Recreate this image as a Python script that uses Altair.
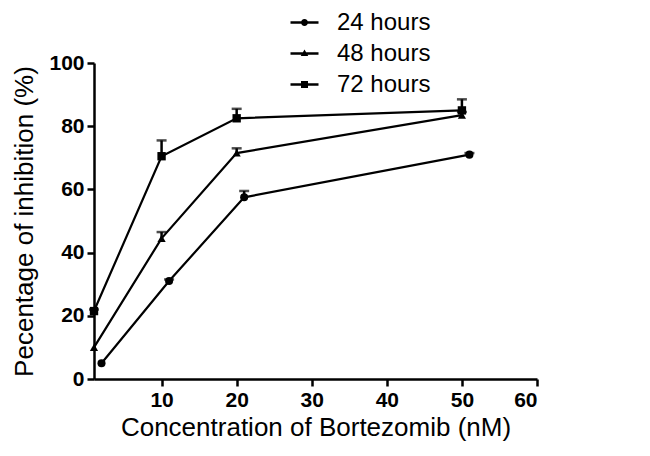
import altair as alt
import pandas as pd

series = ["24 hours"] * 4 + ["48 hours"] * 4 + ["72 hours"] * 4
conc = [2, 11, 21, 51, 1, 10, 20, 50, 1, 10, 20, 50]
inhib = [5, 31, 57.5, 71, 10, 44.5, 71.5, 83.5, 21.5, 70.5, 82.5, 85]
err = [0, 0.5, 2, 0.5, 0, 2, 1.5, 1, 0.5, 5, 3, 3.5]

labels = ["24 hours", "48 hours", "72 hours"]
x_ticks = [10, 20, 30, 40, 50, 60]
y_ticks = [0, 20, 40, 60, 80, 100]

df = pd.DataFrame({"series": series, "conc": conc, "inhib": inhib, "err": err})
df["hi"] = df["inhib"] + df["err"]

FONT = "Liberation Sans"

x = alt.X("conc:Q", scale=alt.Scale(domain=[1, 60], nice=False, zero=False),
          axis=alt.Axis(values=x_ticks, title="Concentration of Bortezomib (nM)"))
y = alt.Y("inhib:Q", scale=alt.Scale(domain=[0, 100], nice=False),
          axis=alt.Axis(values=y_ticks, title="Pecentage of inhibition (%)"))

base = alt.Chart(df)

lines = base.mark_line(color="black").encode(
    x=x, y=y, detail="series:N",
    strokeWidth=alt.StrokeWidth("series:N", scale=alt.Scale(domain=labels, range=[2.2, 2.2, 3]), legend=None),
)

rules = base.transform_filter("datum.err > 0").mark_rule(color="black", strokeWidth=2.5).encode(
    x="conc:Q", y="inhib:Q", y2="hi:Q")
caps = base.transform_filter("datum.err > 0").mark_tick(
    color="black", orient="horizontal", size=10, thickness=2.5).encode(x="conc:Q", y="hi:Q")

points = base.mark_point(filled=True, color="black", opacity=1).encode(
    x="conc:Q", y="inhib:Q",
    shape=alt.Shape("series:N", scale=alt.Scale(domain=labels, range=["circle", "triangle-up", "square"]), legend=None),
    size=alt.Size("series:N", scale=alt.Scale(domain=labels, range=[65, 70, 80]), legend=None),
)

leg_paths = [
    "M-1,-0.09L1,-0.09L1,0.09L-1,0.09ZM0.25,0A0.25,0.25,0,1,1,-0.25,0A0.25,0.25,0,1,1,0.25,0Z",
    "M-1,-0.09L1,-0.09L1,0.09L-1,0.09ZM0,-0.28L0.27,0.18L-0.27,0.18Z",
    "M-1,-0.09L1,-0.09L1,0.09L-1,0.09ZM-0.25,-0.25L0.25,-0.25L0.25,0.25L-0.25,0.25Z",
]
legend_layer = base.transform_filter("false").mark_point(
    fill="black", stroke="black", strokeWidth=1, opacity=1).encode(
    x="conc:Q", y="inhib:Q",
    shape=alt.Shape("series:N", scale=alt.Scale(domain=labels, range=leg_paths),
                    legend=alt.Legend(title=None, orient="none", legendX=196, legendY=-55)),
)

chart = alt.layer(lines, rules, caps, points, legend_layer).resolve_scale(
    shape="independent", size="independent", strokeWidth="independent"
).properties(
    width=443, height=316,
    autosize=alt.AutoSizeParams(type="none"),
    padding={"left": 86, "top": 55, "right": 100, "bottom": 65},
).configure_view(stroke=None).configure_axis(
    grid=False, domainColor="black", domainWidth=2.5, tickColor="black", tickWidth=2.5,
    tickSize=7, labelFont=FONT, labelFontWeight="bold", labelFontSize=21, labelColor="black",
    labelPadding=3, titleFont=FONT, titleFontSize=26, titleFontWeight="normal", titleColor="black",
).configure_axisX(titlePadding=4).configure_axisY(titlePadding=11).configure_legend(
    symbolSize=784, symbolStrokeWidth=1, symbolFillColor="black", symbolStrokeColor="black",
    labelFont=FONT, labelFontSize=24, labelColor="black", labelOffset=18, rowPadding=4, padding=0,
)

chart.save("out.html", embed_options={"renderer": "svg", "actions": False})
